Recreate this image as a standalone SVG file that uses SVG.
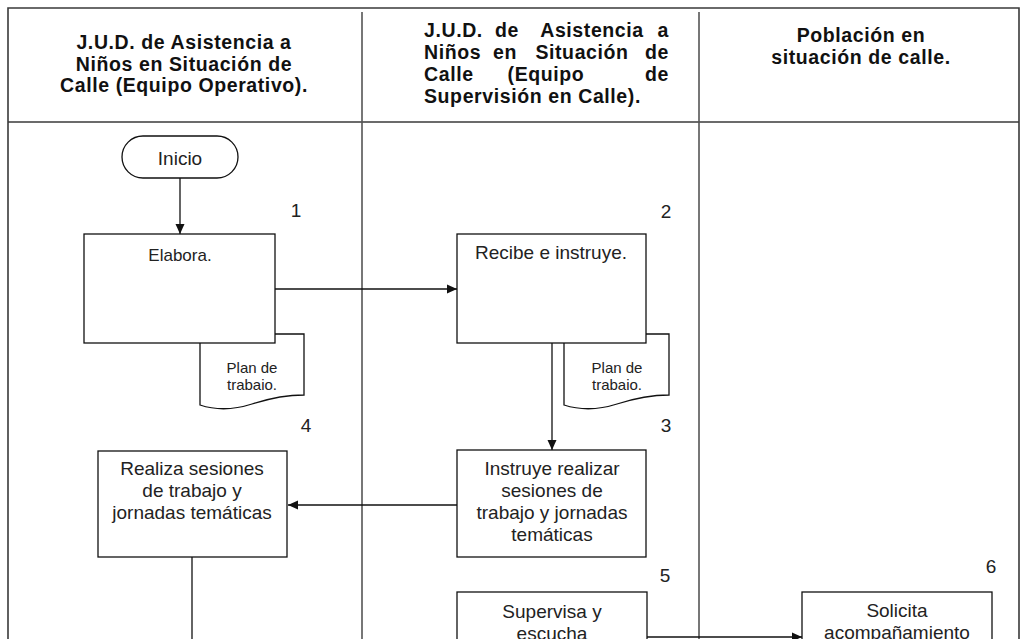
<svg xmlns="http://www.w3.org/2000/svg" width="1026" height="639" viewBox="0 0 1026 639">
<defs>
<style>
.frame{fill:none;stroke:#3a3a3a;stroke-width:1.6}
.lane{stroke:#555;stroke-width:1.6;fill:none}
.box{fill:#fff;stroke:#111;stroke-width:1.3}
.conn{fill:none;stroke:#111;stroke-width:1.3}
.hd{font-family:"Liberation Sans",Arial,sans-serif;font-weight:bold;font-size:19.5px;letter-spacing:0.6px;fill:#111}
.t{font-family:"Liberation Sans",Arial,sans-serif;font-size:19px;fill:#222;text-anchor:middle}
.num{font-family:"Liberation Sans",Arial,sans-serif;font-size:19px;fill:#222;text-anchor:middle}
.sm{font-family:"Liberation Sans",Arial,sans-serif;font-size:15px;fill:#222;text-anchor:middle}
</style>
<marker id="arr" viewBox="0 0 10 10" refX="10" refY="5" markerWidth="10" markerHeight="10" markerUnits="userSpaceOnUse" orient="auto">
<path d="M0,0.5 L10,5 L0,9.5 Z" fill="#111"/>
</marker>
</defs>
<rect width="1026" height="639" fill="#fff"/>

<g id="frame">
<path class="frame" d="M8,645 V8 H1019 V645"/>
<line class="frame" x1="8" y1="122" x2="1019" y2="122"/>
<line class="lane" x1="362" y1="12" x2="362" y2="645"/>
<line class="lane" x1="699" y1="12" x2="699" y2="645"/>
</g>

<g id="headers">
<text class="hd" text-anchor="middle" x="184" y="49">J.U.D. de Asistencia a</text>
<text class="hd" text-anchor="middle" x="184" y="70.5">Niños en Situación de</text>
<text class="hd" text-anchor="middle" x="184" y="92">Calle (Equipo Operativo).</text>

<text class="hd" x="424" y="37">J.U.D.</text>
<text class="hd" text-anchor="middle" x="507" y="37">de</text>
<text class="hd" text-anchor="middle" x="592" y="37">Asistencia</text>
<text class="hd" text-anchor="end" x="669" y="37">a</text>
<text class="hd" x="424" y="59">Niños</text>
<text class="hd" text-anchor="middle" x="505" y="59">en</text>
<text class="hd" text-anchor="middle" x="582" y="59">Situación</text>
<text class="hd" text-anchor="end" x="669" y="59">de</text>
<text class="hd" x="424" y="81">Calle</text>
<text class="hd" text-anchor="middle" x="546" y="81">(Equipo</text>
<text class="hd" text-anchor="end" x="669" y="81">de</text>
<text class="hd" x="424" y="103">Supervisión en Calle).</text>

<text class="hd" text-anchor="middle" x="861" y="42">Población en</text>
<text class="hd" text-anchor="middle" x="861" y="64">situación de calle.</text>
</g>

<g id="connectors">
<line class="conn" x1="180" y1="178" x2="180" y2="234" marker-end="url(#arr)"/>
<line class="conn" x1="275" y1="289" x2="457" y2="289" marker-end="url(#arr)"/>
<line class="conn" x1="552" y1="343" x2="552" y2="450" marker-end="url(#arr)"/>
<line class="conn" x1="457" y1="505" x2="288" y2="505" marker-end="url(#arr)"/>
<line class="conn" x1="192" y1="557" x2="192" y2="645"/>
<line class="conn" x1="647" y1="637" x2="802" y2="637" marker-end="url(#arr)"/>
</g>

<g id="inicio">
<rect class="box" x="122" y="136" width="116" height="42" rx="21" ry="21"/>
<text class="t" x="180" y="165">Inicio</text>
</g>

<g id="doc1">
<path class="box" d="M200,334 H304 V395 Q280,395 252,404 T200,405 Z"/>
<text class="sm" x="252" y="373">Plan de</text>
<text class="sm" x="252" y="390">trabaio.</text>
</g>

<g id="step1">
<rect class="box" x="84" y="234" width="191" height="109"/>
<text class="t" style="font-size:17px" x="180" y="261">Elabora.</text>
<text class="num" x="296" y="217">1</text>
</g>

<g id="doc2">
<path class="box" d="M564,334 H669 V395 Q645,395 617,404 T564,405 Z"/>
<text class="sm" x="617" y="373">Plan de</text>
<text class="sm" x="617" y="390">trabaio.</text>
</g>

<g id="step2">
<rect class="box" x="457" y="234" width="189" height="109"/>
<text class="t" x="551" y="259">Recibe e instruye.</text>
<text class="num" x="666" y="218">2</text>
</g>

<g id="step3">
<rect class="box" x="457" y="450" width="189" height="107"/>
<text class="t" x="552" y="475">Instruye realizar</text>
<text class="t" x="552" y="497">sesiones de</text>
<text class="t" x="552" y="519">trabajo y jornadas</text>
<text class="t" x="552" y="541">temáticas</text>
<text class="num" x="666" y="432">3</text>
</g>

<g id="step4">
<rect class="box" x="98" y="451" width="189" height="106"/>
<text class="t" x="192" y="475">Realiza sesiones</text>
<text class="t" x="192" y="497">de trabajo y</text>
<text class="t" x="192" y="519">jornadas temáticas</text>
<text class="num" x="306" y="432">4</text>
</g>

<g id="step5">
<rect class="box" x="457" y="592" width="190" height="60"/>
<text class="t" x="552" y="618">Supervisa y</text>
<text class="t" x="552" y="640">escucha</text>
<text class="num" x="665" y="582">5</text>
</g>

<g id="step6">
<rect class="box" x="802" y="592" width="190" height="60"/>
<text class="t" x="897" y="617">Solicita</text>
<text class="t" x="897" y="639">acompañamiento</text>
<text class="num" x="991" y="573">6</text>
</g>
</svg>
